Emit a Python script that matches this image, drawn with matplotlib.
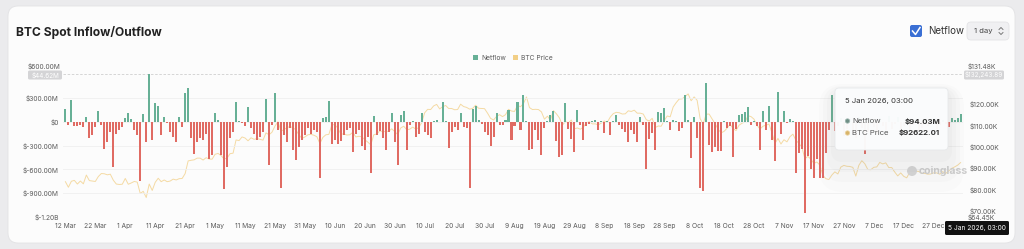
import numpy as np
import pandas as pd
import matplotlib
matplotlib.use('Agg')
import matplotlib.pyplot as plt
from matplotlib.patches import FancyBboxPatch, Rectangle, Circle
from matplotlib.lines import Line2D
from matplotlib.transforms import IdentityTransform

plt.rcParams['font.family'] = ['Inter', 'DejaVu Sans']

# daily data, 12 Mar 2025 .. 5 Jan 2026
dates = pd.date_range('2025-03-12', '2026-01-05', freq='D')

# netflow in $M
netflow_a = [158, -40, 270, -60, -60, -40, -70, 65, -210, -170, -70, 128, -40, -340, -255,
             -130, -575, -150, -105, -65, 40, 105, 30, -105, -170, -745, 100, -255, 595, -235,
             235, 200, -170, 65, -20, -130, -190, -255, 55, -70, 355, 425, -210, -405, -255,
             -210, -235, -150, -470, -425, 105]
netflow_b = [20, -425, -850, -575, -210, -130, 245, 5, -20, -55, 190, -85, -150, -235, -190,
             -130, 285, -540, -40, 355, -105, -840, -170, -255, -85, -360, -480, -320, -235, -170,
             -85, -150, -105, -130, -710, 40, 65, 255, -275, -235, -275, -245, -170, -105, -85,
             -385, -150, -105, -300]
netflow_c = [-360, -190, -640, 70, -170, -115, -210, -360, -130, 115, -255, -540, 85, 128, -355,
             -40, 5, -190, -150, 115, -130, -170, -210, 5, 15, -10, 245, 5, -330, -130,
             -65, -105, 115, -65, -85, -840, 160, 200, 20, -30, -130, -170, -300, -190, 115,
             -40, -40, 20, 150, -235]
netflow_d = [-50, 245, -105, 340, 5, -360, -340, -105, -235, -425, -85, 5, 90, 128, -240,
             -440, -415, 235, -95, -215, -380, 150, -40, -230, -60, -30, 10, 20, -110, 5,
             -140, 5, -170, 5, 85, -40, -90, -130, -255, -110, -150, -260, 60, -40, -600,
             -220, -140, -360, 120, 110]
netflow_e = [170, 5, -110, 20, 5, -120, -80, 335, 20, -460, 65, -210, -840, -870, 490,
             -295, -385, -320, -365, -365, 5, -80, -60, -440, -90, 85, 100, 120, 185, -40,
             10, -60, -360, 128, -100, 195, -230, -490, 375, -150, 135, -20, 35, 5, -640,
             -390, -340, -1150, -430, -600, -710, -470, -710, -710, -400, -100, 330]
netflow_f = [-120, -60, 45, -180, -90, 30, -150, -200, 60, -80, -410, -130, 25, -70, -160,
             40, -50, -110, 70, -90, -30, 55, -140, -60, 20, -100, -45, 35, -120, -80,
             30, -60, -25, 50, -90, -40, 20, -30, -70, 50, 20, 40, 94.03]
netflow = np.array(netflow_a + netflow_b + netflow_c + netflow_d + netflow_e + netflow_f) * 1e6

# BTC price in $K
price_mar = [83.7, 81.1, 83.9, 84.3, 82.6, 84.0, 82.7, 86.8, 84.2, 84.0, 83.8, 86.1, 87.5, 87.4,
             86.9, 87.2, 84.4, 82.6, 82.4, 82.5]
price_apr = [85.2, 82.5, 83.1, 83.8, 83.5, 78.2, 79.2, 76.3, 82.6, 79.6, 83.4, 85.3, 83.7, 84.5,
             83.7, 84.0, 84.9, 84.5, 85.1, 85.2, 87.5, 93.4, 93.7, 93.9, 94.7, 94.7, 93.8, 94.9,
             94.3, 94.2]
price_may = [96.5, 96.9, 95.9, 94.3, 94.7, 96.8, 97.0, 103.2, 102.9, 104.6, 104.1, 102.8, 104.2,
             103.5, 103.8, 103.5, 103.1, 106.5, 105.6, 106.8, 109.7, 111.7, 107.3, 108.0, 109.0,
             109.4, 109.0, 107.8, 105.6, 103.9, 104.6]
price_jun = [105.6, 105.8, 105.4, 104.7, 101.5, 104.4, 105.6, 105.8, 110.3, 110.3, 108.7, 105.9,
             106.0, 105.5, 105.6, 106.8, 104.6, 104.9, 104.7, 103.3, 102.2, 100.9, 105.6, 106.0,
             107.4, 107.1, 107.1, 107.3, 108.4, 107.1]
price_jul = [105.7, 108.8, 109.6, 108.0, 108.2, 109.2, 108.3, 108.9, 111.3, 115.9, 117.5, 117.4,
             119.1, 119.8, 117.7, 118.7, 119.3, 117.9, 117.9, 117.3, 117.4, 119.9, 118.8, 118.4,
             117.6, 117.9, 119.4, 118.0, 117.9, 117.8, 115.7]
price_aug = [113.3, 112.5, 114.2, 115.0, 114.1, 115.0, 117.5, 116.7, 116.5, 119.3, 118.7, 120.2,
             123.3, 118.3, 117.4, 117.5, 117.4, 116.3, 112.9, 114.3, 112.4, 116.9, 115.4, 113.5,
             110.1, 111.8, 111.2, 112.5, 108.4, 108.8, 108.2]
price_sep = [109.2, 111.2, 111.7, 110.7, 110.7, 110.2, 111.1, 112.0, 111.5, 113.9, 115.5, 116.1,
             115.9, 115.3, 115.4, 116.8, 116.5, 117.1, 115.7, 115.7, 115.3, 112.7, 112.0, 113.3,
             109.0, 109.7, 109.6, 112.2, 114.4, 114.0]
price_oct = [118.6, 120.6, 122.3, 122.4, 123.5, 124.7, 121.5, 123.3, 121.7, 113.2, 110.6, 115.2,
             115.3, 113.0, 110.8, 108.2, 106.5, 107.2, 108.7, 110.6, 108.5, 107.6, 110.1, 111.0,
             111.6, 114.5, 114.1, 112.9, 110.0, 108.3, 109.6]
price_nov = [110.1, 110.6, 106.5, 101.6, 103.9, 101.3, 103.3, 102.3, 104.7, 105.9, 103.0, 101.6,
             99.7, 94.4, 95.5, 94.2, 92.2, 92.9, 91.4, 86.6, 85.1, 84.7, 86.8, 88.3, 87.3, 90.5,
             91.3, 90.9, 90.8, 90.4]
price_dec = [86.3, 91.3, 93.5, 92.1, 89.4, 89.3, 90.4, 90.6, 92.7, 92.0, 92.5, 90.3, 90.3, 88.2,
             86.4, 87.8, 86.2, 85.5, 88.1, 88.2, 88.6, 88.5, 87.6, 87.6, 87.2, 87.3, 87.8, 87.8,
             87.2, 88.4, 87.5]
price_jan = [88.7, 89.9, 90.6, 91.4, 92.622]
price = np.array(price_mar + price_apr + price_may + price_jun + price_jul + price_aug +
                 price_sep + price_oct + price_nov + price_dec + price_jan)

left_ticks = [-1.2e9, -0.9e9, -0.6e9, -0.3e9, 0, 0.3e9]
left_labels = ['$-1.20B', '$-900.00M', '$-600.00M', '$-300.00M', '$0', '$300.00M']
right_ticks = [70, 80, 90, 100, 110, 120]
right_labels = ['$70.00K', '$80.00K', '$90.00K', '$100.00K', '$110.00K', '$120.00K']

GREEN = '#67b096'
RED = '#e06b63'
GOLD = '#f2cf86'
TXT = '#5a5a5a'

W, H = 1024, 249
fig = plt.figure(figsize=(W / 100, H / 100), dpi=100, facecolor='#ebebed')
ID = IdentityTransform()


def box(x0, y0, x1, y1, fc, ec='none', r=4, lw=0.6, z=1, alpha=1.0):
    p = FancyBboxPatch((x0, H - y1), x1 - x0, y1 - y0, boxstyle=f'round,pad=0,rounding_size={r}',
                       transform=ID, fc=fc, ec=ec, lw=lw, zorder=z, alpha=alpha)
    fig.add_artist(p)
    return p


def ptext(x, y, s, **kw):
    fig.text(x / W, 1 - y / H, s, **kw)


# card
box(8, 6, 1015, 243, '#fcfcfc', ec='#e2e2e4', r=10, z=0)

ptext(16, 32, 'BTC Spot Inflow/Outflow', fontsize=8.7, fontweight='bold', color='#222222',
      va='center', ha='left')

# checkbox + interval selector
box(910, 25, 922, 37, '#3a6fd4', r=2, z=2)
fig.add_artist(Line2D([912.5, 915.5, 920], [H - 31, H - 34.5, H - 27.5], transform=ID,
                      color='white', lw=1.1, zorder=3))
ptext(928, 31, 'Netflow', fontsize=7, color='#333333', va='center', ha='left')
box(967, 22, 1009, 40, '#f0f0f2', ec='#e3e3e6', r=4, z=2)
ptext(974, 31, '1 day', fontsize=5.5, color='#444444', va='center', ha='left')
fig.add_artist(Line2D([999, 1001, 1003], [H - 29.5, H - 27.5, H - 29.5], transform=ID,
                      color='#666666', lw=0.6, zorder=3))
fig.add_artist(Line2D([999, 1001, 1003], [H - 32.5, H - 34.5, H - 32.5], transform=ID,
                      color='#666666', lw=0.6, zorder=3))

# legend
fig.add_artist(Rectangle((473, H - 60), 5, 5, transform=ID, fc=GREEN, ec='none'))
ptext(481, 57.5, 'Netflow', fontsize=4.8, color=TXT, va='center', ha='left')
fig.add_artist(Rectangle((513, H - 60), 5, 5, transform=ID, fc=GOLD, ec='none'))
ptext(521, 57.5, 'BTC Price', fontsize=4.8, color=TXT, va='center', ha='left')

# axes
ax = fig.add_axes([63 / W, 1 - 217 / H, 900 / W, 143 / H])
ax2 = ax.twinx()
ax.set_zorder(ax2.get_zorder() + 1)
ax.patch.set_visible(False)

x = np.arange(len(dates))
colors = [GREEN if v >= 0 else RED for v in netflow]
ax.bar(x, netflow, width=0.68, color=colors, zorder=3)
ax.set_xlim(-0.8, len(dates) - 0.2)
ax.set_ylim(-1.2e9, 0.6e9)
ax.set_yticks(left_ticks)
ax.set_yticklabels(left_labels)
for y in left_ticks:
    ax.axhline(y, color='#efefef', lw=0.6, zorder=0)
ax.axhline(0.6e9, color='#cfcfcf', lw=0.6, ls=(0, (3, 2)), zorder=0)

tick_idx = np.arange(0, len(dates), 10)
ax.set_xticks(tick_idx)
ax.set_xticklabels([f"{d.day} {d.strftime('%b')}" for d in dates[tick_idx]])

ax2.plot(x, price, color=GOLD, lw=0.7, alpha=0.75)
ax2.set_ylim(67.2, 134.0)
ax2.set_yticks(right_ticks)
ax2.set_yticklabels(right_labels)

for a in (ax, ax2):
    for s in a.spines.values():
        s.set_visible(False)
    a.tick_params(length=0, labelsize=4.8, labelcolor=TXT)
ax.tick_params(axis='y', pad=3)
ax.tick_params(axis='x', pad=4)
ax2.tick_params(axis='y', pad=5)

# edge labels, partly hidden by the crosshair badges
ptext(968, 217.5, '$64.45K', fontsize=4.8, color=TXT, va='center', ha='left')
ptext(60, 66.5, '$600.00M', fontsize=4.8, color=TXT, va='center', ha='right')
ptext(968, 66.5, '$131.48K', fontsize=4.8, color=TXT, va='center', ha='left')
box(28, 70.5, 62, 79.5, '#d4d4d6', r=1.5, z=4)
ptext(45, 75, '$44.62M', fontsize=4.6, color='white', va='center', ha='center', zorder=5)
box(964, 70.5, 1004, 79.5, '#d4d4d6', r=1.5, z=4)
ptext(984, 75, '$132,243.89', fontsize=4.6, color='white', va='center', ha='center', zorder=5)

# watermark
fig.add_artist(Circle((912, H - 171), 5, transform=ID, fc='#d6d6d6', ec='none', zorder=2))
ptext(919, 171, 'coinglass', fontsize=7.5, color='#cdcdcd', va='center', ha='left',
      fontweight='bold', zorder=2)

# tooltip with soft shadow
for i, a in enumerate([0.025, 0.03, 0.035, 0.04]):
    g = 16 - 4 * i
    box(835 - g, 92 - g / 2, 948 + g, 152 + g * 2.5, '#909090', r=8 + g, z=5, alpha=a)
box(835, 88, 948, 150, '#fbfcfd', ec='#e6e8ea', r=4, z=6, alpha=0.97)
ptext(845, 101, '5 Jan 2026, 03:00', fontsize=5.6, color='#333333', va='center', ha='left',
      zorder=7)
fig.add_artist(Circle((847.5, H - 121), 2.2, transform=ID, fc='#6f8f86', ec='#9fb7b0', lw=0.5,
                      zorder=7))
ptext(852, 121, 'Netflow', fontsize=5.6, color='#555555', va='center', ha='left', zorder=7)
ptext(940, 121, '$94.03M', fontsize=5.6, color='#333333', va='center', ha='right', zorder=7,
      fontweight='bold')
fig.add_artist(Circle((847.5, H - 133), 2.2, transform=ID, fc='#d8b46a', ec='#ecd39e', lw=0.5,
                      zorder=7))
ptext(852, 133, 'BTC Price', fontsize=5.6, color='#555555', va='center', ha='left', zorder=7)
ptext(940, 133, '$92622.01', fontsize=5.6, color='#333333', va='center', ha='right', zorder=7,
      fontweight='bold')

# x crosshair badge
box(945, 221, 1009, 235, '#111111', r=1.5, z=6)
ptext(977, 228, '5 Jan 2026, 03:00', fontsize=4.8, color='white', va='center', ha='center',
      zorder=7)

fig.savefig('out.png', dpi=100, facecolor=fig.get_facecolor())
